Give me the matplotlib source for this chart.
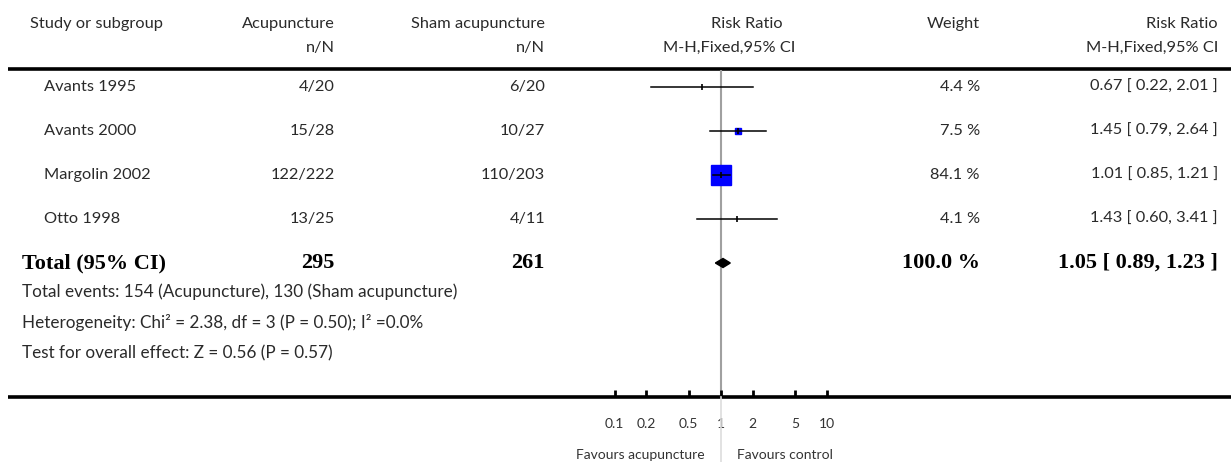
import matplotlib
matplotlib.use("Agg")
import matplotlib.pyplot as plt
import numpy as np

# data
studies = ["Avants 1995", "Avants 2000", "Margolin 2002", "Otto 1998"]
acu = ["4/20", "15/28", "122/222", "13/25"]
sham = ["6/20", "10/27", "110/203", "4/11"]
rr = [0.67, 1.45, 1.01, 1.43]
lo = [0.22, 0.79, 0.85, 0.60]
hi = [2.01, 2.64, 1.21, 3.41]
weight = [4.4, 7.5, 84.1, 4.1]
total_rr, total_lo, total_hi = 1.05, 0.89, 1.23
total_acu, total_sham, total_weight = 295, 261, 100.0
ticks = [0.1, 0.2, 0.5, 1, 2, 5, 10]
tick_labels = ["0.1", "0.2", "0.5", "1", "2", "5", "10"]
footer = ["Total events: 154 (Acupuncture), 130 (Sham acupuncture)",
          "Heterogeneity: Chi² = 2.38, df = 3 (P = 0.50); I² =0.0%",
          "Test for overall effect: Z = 0.56 (P = 0.57)"]

W, H = 1231, 462
fig = plt.figure(figsize=(W / 100, H / 100), dpi=100)
sans = "Lato"
serif = "Liberation Serif"
tc = "#2a2a2a"
fs = 11.8
bfs = 16

# overlay in pixel coords for the table text
ov = fig.add_axes([0, 0, 1, 1])
ov.set_xlim(0, W)
ov.set_ylim(H, 0)
ov.axis("off")

def txt(x, y, s, ha="right", **kw):
    kw.setdefault("family", sans)
    kw.setdefault("fontsize", fs)
    kw.setdefault("color", tc)
    ov.text(x, y, s, ha=ha, va="center", **kw)

# header
txt(30, 24, "Study or subgroup", ha="left")
txt(335, 24, "Acupuncture")
txt(335, 48, "n/N")
txt(545, 24, "Sham acupuncture")
txt(545, 48, "n/N")
txt(783, 24, "Risk Ratio")
txt(795, 48, "M-H,Fixed,95% CI")
txt(980, 24, "Weight")
txt(1218, 24, "Risk Ratio")
txt(1218, 48, "M-H,Fixed,95% CI")
ov.plot([8, W], [69, 69], color="black", lw=2.6, solid_capstyle="butt")
ov.plot([8, W], [397, 397], color="black", lw=2.6, solid_capstyle="butt")

row_y0, row_dy = 87, 44
for i, s in enumerate(studies):
    y = row_y0 + row_dy * i
    txt(44, y, s, ha="left")
    txt(335, y, acu[i])
    txt(545, y, sham[i])
    txt(980, y, "%.1f %%" % weight[i])
    txt(1218, y, "%.2f [ %.2f, %.2f ]" % (rr[i], lo[i], hi[i]))

ty = row_y0 + row_dy * len(studies)
bold = dict(family=serif, fontsize=bfs, fontweight="bold", color="black")
txt(22, ty, "Total (95% CI)", ha="left", **bold)
txt(335, ty, str(total_acu), **bold)
txt(545, ty, str(total_sham), **bold)
txt(980, ty, "%.1f %%" % total_weight, **bold)
txt(1218, ty, "%.2f [ %.2f, %.2f ]" % (total_rr, total_lo, total_hi), **bold)

for j, line in enumerate(footer):
    txt(22, 292 + 30.5 * j, line, ha="left", fontsize=12.3)

# forest plot axes (log scale), 0.1 -> 614.5px, 10 -> 827px
x0, x1 = 614.5, 827
top_px, bot_px = 70, 397
ax = fig.add_axes([x0 / W, (H - bot_px) / H, (x1 - x0) / W, (bot_px - top_px) / H])
ax.patch.set_alpha(0)
ax.set_xscale("log")
ax.set_xlim(0.1, 10)
ax.set_ylim((bot_px - row_y0) / row_dy, (top_px - row_y0) / row_dy)
for sp in ax.spines.values():
    sp.set_visible(False)
ax.set_yticks([])
ax.set_xticks(ticks)
ax.set_xticklabels(tick_labels, family=sans, fontsize=10, color="#333333")
ax.minorticks_off()
ax.tick_params(axis="x", direction="in", length=5, width=2, pad=15)

ax.axvline(1, color="#a0a0a0", lw=1.5, zorder=1)
ax.axvline(1, ymin=-(H - bot_px) / (bot_px - top_px), ymax=0, color="#dddddd", lw=1.2, clip_on=False)

for i in range(len(studies)):
    ax.plot([lo[i], hi[i]], [i, i], color="black", lw=1.1, zorder=3)
    if weight[i] > 5:
        ax.plot(rr[i], i, marker="s", ms=1.5 * np.sqrt(weight[i]), color="blue", mec="blue", zorder=2)
    ax.plot(rr[i], i, marker="|", ms=4, mew=1.2, color="black", zorder=4)

n = len(studies)
h = 4.5 / row_dy
ax.fill([total_lo, total_rr, total_hi, total_rr], [n, n - h, n, n + h], color="black", zorder=3)

ov.text(705, 455, "Favours acupuncture", ha="right", va="center", family=sans, fontsize=10, color="#333333")
ov.text(737, 455, "Favours control", ha="left", va="center", family=sans, fontsize=10, color="#333333")

fig.savefig("out.png", dpi=100)
